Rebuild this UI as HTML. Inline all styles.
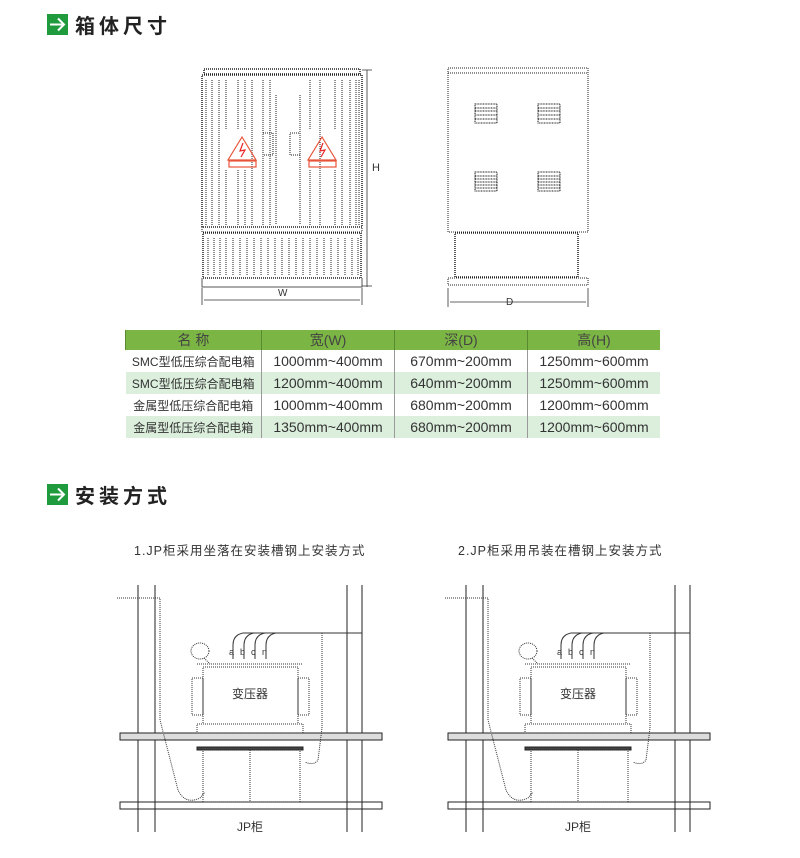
<!DOCTYPE html>
<html><head><meta charset="utf-8"><style>
body{margin:0;background:#fff;width:800px;height:858px;overflow:hidden;position:relative;font-family:"Liberation Sans","Noto Sans CJK SC",sans-serif}
.h{position:absolute;left:47px;height:22px;display:flex;align-items:center}
.h .ic{width:21px;height:21px;background:#1f9a3c;position:relative}
.h span{font-size:20px;font-weight:bold;letter-spacing:4px;margin-left:7px;color:#222}
table{position:absolute;left:125px;top:330px;border-collapse:collapse;font-size:14px;color:#333}
td{height:22px;padding:0;text-align:center;border-left:1px solid #999;white-space:nowrap}
td:first-child{border-left:none;width:135px;font-size:12px}
td{width:132px}
tr.hd td{background:#7bb543;height:20px;color:#444;font-size:14px;border-left:1px solid #5a8a30}
tr.g td{background:#dcefdd}
.s{position:absolute;font-size:12.5px;color:#333;letter-spacing:1px}
</style></head><body>
<div class="h" style="top:13px"><div class="ic"><svg width="21" height="21"><path d="M3 10.5H17M11 4.5L17 10.5L11 16.5" stroke="#fff" stroke-width="2" fill="none"/></svg></div><span>箱体尺寸</span></div>
<div class="h" style="top:483px"><div class="ic"><svg width="21" height="21"><path d="M3 10.5H17M11 4.5L17 10.5L11 16.5" stroke="#fff" stroke-width="2" fill="none"/></svg></div><span>安装方式</span></div>

<svg width="800" height="858" style="position:absolute;left:0;top:0" fill="none">
<g stroke="#222" stroke-width="1" stroke-dasharray="1,1">
<!-- front cabinet -->
<path d="M204 69H360V74H204Z" stroke-width="1.5"/>
<rect x="202" y="75" width="160" height="152" stroke-width="1.5"/>
<rect x="203" y="233" width="158" height="45" stroke-width="1.5"/>
<path d="M202 227V232H362V227"/>
<g stroke="#222">
<path d="M212 80V225M219 80V225M226 80V130M238 80V130M245 80V130M252 80V225M263 80V225M270 80V225M276 95V225M300 95V225M310 80V130M320 80V225M335 80V130M342 80V225M350 80V225M356 80V225M226 170V225M238 170V225M245 170V225M310 170V225M335 170V225M206 80V225M359 80V225"/>
<path d="M208 238V276M214 238V276M220 238V276M226 238V276M233 238V276M240 238V276M247 238V276M254 238V276M261 238V276M268 238V276M275 238V276M282 238V276M289 238V276M296 238V276M303 238V276M310 238V276M317 238V276M324 238V276M331 238V276M338 238V276M345 238V276M352 238V276M358 238V276"/>
<rect x="263" y="133" width="10" height="22"/><rect x="290" y="133" width="10" height="22"/>
</g>
<!-- side cabinet -->
<rect x="448" y="68" width="140" height="164"/>
<path d="M448 73H588"/>
<rect x="455" y="233" width="123" height="44" stroke-width="1.5"/>
<path d="M448 278H588V285H448Z"/>
<g stroke="#222" stroke-dasharray="1,0.6">
<rect x="475" y="104" width="22" height="19"/><rect x="538" y="104" width="22" height="19"/>
<rect x="475" y="172" width="22" height="19"/><rect x="538" y="172" width="22" height="19"/>
<path d="M475 108H497M475 111H497M475 115H497M475 119H497M538 108H560M538 111H560M538 115H560M538 119H560M475 176H497M475 179H497M475 182H497M475 185H497M475 188H497M538 176H560M538 179H560M538 182H560M538 185H560M538 188H560"/>
</g>
</g>
<path d="M202 278V287H362V278" stroke="#555"/>
<!-- warning signs -->
<g stroke="#e8553a" stroke-width="1.2">
<path d="M242 137L256 160H228Z"/><rect x="229" y="161" width="27" height="6"/>
<path d="M322 137L336 160H308Z"/><rect x="309" y="161" width="27" height="6"/>
<path d="M243 143L240 151L245 150L241 157" stroke="#e22"/><path d="M323 143L320 151L325 150L321 157" stroke="#e22"/>
</g>
<!-- dimensions -->
<g stroke="#333" stroke-width="0.8">
<path d="M202 288V305M362 288V305M204 300H360M367 70V287M362 70H372M362 286H372"/>
<path d="M448 288V307M588 288V307M450 302H586"/>
</g>
<g fill="#333" font-size="10" font-family="Liberation Sans"><text x="278" y="296">W</text><text x="372" y="171" font-size="11">H</text><text x="506" y="305">D</text></g>

<!-- install diagrams -->
<g id="d1">
<g stroke="#222" stroke-width="1">
<path d="M138 585V832M155 585V832M347 585V832M362 585V832"/>
<rect x="120" y="733" width="262" height="7" fill="#ddd"/>
<rect x="120" y="802" width="262" height="7"/>
<rect x="197" y="747" width="106" height="3" fill="#444"/>
</g>
<g stroke="#333" stroke-width="1" stroke-dasharray="1,1">
<path d="M117 598H160V720L178 790Q185 805 200 798L205 792"/>
<path d="M322 633V728L318 760Q314 766 305 762"/>
<rect x="203" y="667" width="95" height="57"/>
<rect x="192" y="678" width="11" height="37"/><rect x="298" y="678" width="11" height="37"/>
<rect x="197" y="724" width="106" height="9"/>
<rect x="203" y="750" width="97" height="52"/>
<path d="M250 750V802M197 664H303"/>
<ellipse cx="200" cy="651" rx="9" ry="8"/>
<path d="M204 658L210 664"/>
</g>
<g stroke="#333" stroke-width="1">
<path d="M233 659V645Q233 635 243 633M244 659V645Q244 635 254 633M255 659V645Q255 635 265 633M266 659V645Q266 635 276 633M243 633H362"/>
</g>
<g fill="#333" font-size="9"><text x="229" y="655">a</text><text x="240" y="655">b</text><text x="251" y="655">c</text><text x="262" y="655">n</text></g>
<text x="250" y="698" font-size="12" fill="#333" text-anchor="middle">变压器</text>
<text x="250" y="831" font-size="12" fill="#333" text-anchor="middle">JP柜</text>
</g>
<use href="#d1" transform="translate(328,0)"/>
</svg>

<table>
<tr class="hd"><td>名 称</td><td>宽(W)</td><td>深(D)</td><td>高(H)</td></tr>
<tr><td>SMC型低压综合配电箱</td><td>1000mm~400mm</td><td>670mm~200mm</td><td>1250mm~600mm</td></tr>
<tr class="g"><td>SMC型低压综合配电箱</td><td>1200mm~400mm</td><td>640mm~200mm</td><td>1250mm~600mm</td></tr>
<tr><td>金属型低压综合配电箱</td><td>1000mm~400mm</td><td>680mm~200mm</td><td>1200mm~600mm</td></tr>
<tr class="g"><td>金属型低压综合配电箱</td><td>1350mm~400mm</td><td>680mm~200mm</td><td>1200mm~600mm</td></tr>
</table>
<div class="s" style="left:134px;top:540px">1.JP柜采用坐落在安装槽钢上安装方式</div>
<div class="s" style="left:458px;top:540px">2.JP柜采用吊装在槽钢上安装方式</div>
</body></html>
